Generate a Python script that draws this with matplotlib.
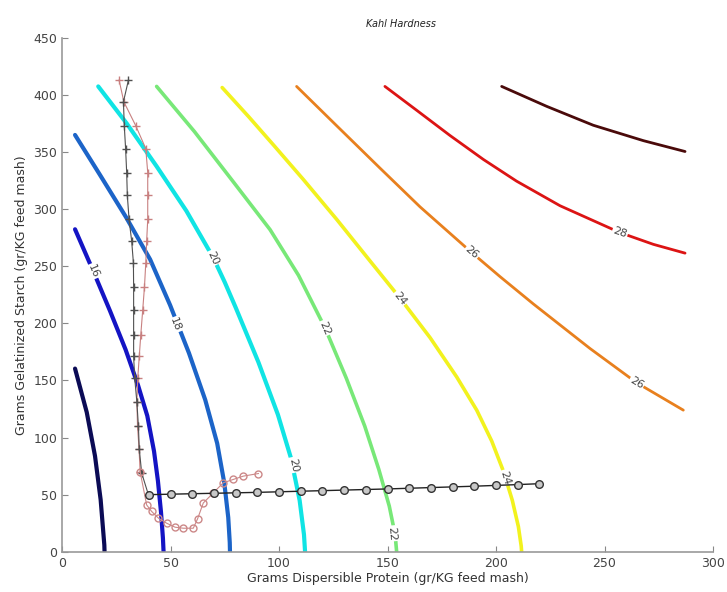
import numpy as np
import matplotlib.pyplot as plt

# contour levels and the colour used for each one
levels = [14, 16, 18, 20, 22, 24, 26, 28, 30]
level_colors = ["#0b0b55", "#1414c4", "#1c64c8", "#10e4e4", "#78e878",
                "#f2f21e", "#e8801e", "#dc1414", "#4a0a0a"]
level_widths = [3, 3, 3, 3, 2.6, 2.6, 2, 2, 2]

# contour lines (protein, starch)
c14_x = [6.0, 11.4, 15.2, 17.8, 19.5, 19.6]
c14_y = [160.4, 122.1, 83.9, 45.6, 5.9, 0]
c16_x = [6.0, 14.4, 22.1, 29.3, 35.0, 39.3, 42.4, 44.2, 45.6, 46.5, 46.8]
c16_y = [282.4, 245.7, 211, 177, 146, 119, 88, 62, 35, 12, 0]
c18_x = [6.0, 17.5, 29.5, 40.6, 49.8, 58.5, 66.0, 71.5, 74.8, 76.6, 77.3, 77.4]
c18_y = [365, 330, 293, 256, 216, 174, 133, 95, 60, 30, 8, 0]
c20_x = [16.7, 29.8, 43.6, 57.3, 69.7, 75, 80, 90.5, 99.5, 105.5, 109.5, 111.5, 112]
c20_y = [407.5, 375.1, 337.5, 298.5, 257.5, 236, 214, 166, 120, 82, 45, 15, 0]
c22_x = [43.6, 61, 78.5, 95.9, 109, 121.2, 131, 139.5, 146, 150.8, 153.5, 154.2]
c22_y = [407.5, 368, 325, 282, 242, 196, 152, 110, 72, 40, 15, 0]
c24_x = [73.8, 86, 98, 111.2, 126.6, 142, 155.8, 169.6, 181.9, 191.1, 198,
         203.5, 207.5, 210.3, 211.6, 211.8]
c24_y = [406.5, 381, 355, 326, 291, 254.5, 222, 187.5, 153, 124, 97,
         70, 45, 22, 5, 0]
c26_x = [108.1, 126.6, 146.5, 165, 188.8, 201.8, 217.2, 243.3, 264.8, 286.3]
c26_y = [407.5, 373, 336, 302, 262, 241, 217, 178, 148, 124]
c28_x = [148.8, 163.5, 178.8, 194.2, 209.5, 229.5, 257.1, 272.5, 287.1]
c28_y = [407.5, 386.5, 364.5, 343.5, 324.5, 303, 279.5, 269.2, 261.5]
c30_x = [202.6, 223.4, 244.8, 267.9, 287.1]
c30_y = [407.5, 390, 373.5, 360, 350.5]

contour_x = [c14_x, c16_x, c18_x, c20_x, c22_x, c24_x, c26_x, c28_x, c30_x]
contour_y = [c14_y, c16_y, c18_y, c20_y, c22_y, c24_y, c26_y, c28_y, c30_y]

# inline labels: level, x, y
label_lv = [16, 18, 20, 20, 22, 22, 24, 24, 26, 26, 28]
label_x = [14.4, 52.1, 69.7, 106.6, 121.2, 151.9, 155.8, 204.1, 188.8, 264.8, 257.1]
label_y = [245.7, 198.6, 257.5, 76, 196, 16, 222, 64.8, 262, 148, 279.5]

# path traces
plus_k_x = [30.6, 28.3, 28.7, 29.3, 29.8, 30.1, 30.9, 32.1, 32.9, 33, 33, 33, 33,
            33.5, 34.5, 35.2, 35.6, 36.7, 39.8]
plus_k_y = [413, 394, 373, 353, 332, 312, 291, 272, 253, 232, 212, 190, 171,
            152, 131, 110, 90, 69, 50]
plus_r_x = [26.3, 28.5, 34, 38.6, 39.5, 39.5, 39.5, 39, 38.6, 38, 37.2, 36.3,
            35.6, 34.9, 34.5, 34.8, 35.5, 36]
plus_r_y = [413, 394, 373, 353, 332, 312, 291, 272, 253, 232, 212, 190, 171,
            152, 131, 110, 90, 70]
circ_r_x = [36, 39, 41.3, 44.4, 48.2, 52.1, 55.9, 60.5, 62.5, 65.1, 69.7, 74.3,
            78.9, 83.5, 90.5]
circ_r_y = [70, 41, 35.3, 29.5, 25, 21.5, 20.6, 20.6, 29, 42.7, 51.5, 60.4,
            63.3, 66.2, 68.5]
circ_k_x = [40, 50, 60, 70, 80, 90, 100, 110, 120, 130, 140, 150, 160, 170,
            180, 190, 200, 210, 220]
circ_k_y = [50, 50.4, 50.8, 51.2, 51.6, 52, 52.5, 53, 53.5, 54, 54.5, 55,
            55.6, 56.2, 56.8, 57.4, 58.1, 58.8, 59.6]

fig = plt.figure(figsize=(7.27, 5.92), dpi=100)
ax = fig.add_axes([0.0853, 0.068, 0.8955, 0.868])
ax.set_xlim(0, 300)
ax.set_ylim(0, 450)

for xs, ys, col, lw in zip(contour_x, contour_y, level_colors, level_widths):
    ax.plot(xs, ys, color=col, lw=lw, solid_capstyle="round",
            solid_joinstyle="round", zorder=2)

# label rotation follows the nearest segment in screen space
for lv, lx, ly in zip(label_lv, label_x, label_y):
    i = levels.index(lv)
    pts = ax.transData.transform(np.column_stack([contour_x[i], contour_y[i]]))
    p = ax.transData.transform((lx, ly))
    mid = (pts[:-1] + pts[1:]) / 2
    j = int(np.argmin(np.hypot(*(mid - p).T)))
    d = pts[j + 1] - pts[j]
    ang = np.degrees(np.arctan2(d[1], d[0]))
    if ang > 90:
        ang -= 180
    elif ang < -90:
        ang += 180
    ax.text(lx, ly, str(lv), rotation=ang, rotation_mode="anchor",
            ha="center", va="center", fontsize=8, color="#444444", zorder=3,
            bbox=dict(boxstyle="square,pad=0.08", fc="white", ec="none"))

ax.plot(plus_r_x, plus_r_y, color="#c88080", lw=0.8, marker="+", ms=6, zorder=4)
ax.plot(plus_k_x, plus_k_y, color="#505050", lw=0.8, marker="+", ms=6, zorder=4)
ax.plot(circ_r_x, circ_r_y, color="#cc8888", lw=0.8, marker="o", ms=5,
        mfc="none", zorder=4)
ax.plot(circ_k_x, circ_k_y, color="#222222", lw=1, marker="o", ms=5.5,
        mfc="#c8c8c8", mec="#333333", zorder=5)

ax.set_xticks(np.arange(0, 301, 50))
ax.set_yticks(np.arange(0, 451, 50))
ax.tick_params(direction="in", length=4, color="#888888", labelcolor="#444444",
               labelsize=9)
for s in ["top", "right"]:
    ax.spines[s].set_visible(False)
for s in ["left", "bottom"]:
    ax.spines[s].set_color("#999999")
    ax.spines[s].set_linewidth(1.2)

ax.set_title("Kahl Hardness", fontsize=7, style="italic", color="#222222",
             x=0.52, pad=8)
ax.set_xlabel("Grams Dispersible Protein (gr/KG feed mash)", fontsize=9,
              color="#333333", labelpad=2)
ax.set_ylabel("Grams Gelatinized Starch (gr/KG feed mash)", fontsize=9,
              color="#333333", labelpad=4)

fig.savefig("out.png", dpi=100)
